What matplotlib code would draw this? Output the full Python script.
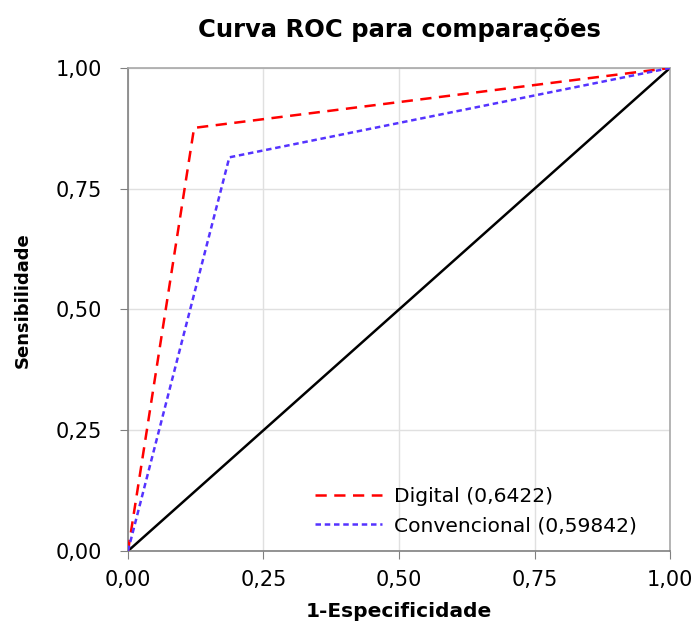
import matplotlib
matplotlib.use("Agg")
import matplotlib.pyplot as plt

plt.rcParams['font.family'] = ['DejaVu Sans']

digital_x = [0.0, 0.122, 1.0]
digital_y = [0.0, 0.876, 1.0]
conv_x = [0.0, 0.187, 1.0]
conv_y = [0.0, 0.815, 1.0]
ref_x = [0.0, 1.0]
ref_y = [0.0, 1.0]
ticks = [0.0, 0.25, 0.5, 0.75, 1.0]
tick_labels = ["0,00", "0,25", "0,50", "0,75", "1,00"]
labels = ["Digital (0,6422)", "Convencional (0,59842)"]

fig = plt.figure(figsize=(6.97, 6.26), dpi=100)
ax = fig.add_axes([0.1836, 0.1198, 0.7777, 0.7716])

ax.plot(ref_x, ref_y, color='black', lw=1.8, zorder=2)
l1, = ax.plot(digital_x, digital_y, color='#ff0000', lw=1.8, dashes=(4.5, 3), zorder=3)
l2, = ax.plot(conv_x, conv_y, color='#5533ff', lw=1.8, dashes=(2.2, 1.5), zorder=3)

ax.set_xlim(0, 1)
ax.set_ylim(0, 1)
ax.set_xticks(ticks)
ax.set_yticks(ticks)
ax.set_xticklabels(tick_labels, fontsize=15)
ax.set_yticklabels(tick_labels, fontsize=15)
ax.grid(True, color='#e0e0e0', lw=1)
ax.set_axisbelow(True)
for s in ax.spines.values():
    s.set_color('#a8a8a8')
    s.set_linewidth(1.2)
ax.spines['left'].set_color('#808080')
ax.spines['bottom'].set_color('#808080')
ax.tick_params(direction='out', length=6, color='#808080')
ax.tick_params(axis='x', pad=8)
ax.tick_params(axis='y', pad=13)

ax.set_title("Curva ROC para comparações", fontsize=17.5, fontweight='bold', pad=22)
ax.set_xlabel("1-Especificidade", fontsize=14.5, fontweight='bold', labelpad=8)
ax.set_ylabel("Sensibilidade", fontsize=13, fontweight='bold')
ax.yaxis.set_label_coords(-0.178, 0.52)

ax.legend([l1, l2], labels, loc='lower right', bbox_to_anchor=(0.972, -0.005),
          frameon=False, fontsize=14.6, handlelength=3.3, handletextpad=0.6,
          labelspacing=0.5)

fig.savefig("out.png", dpi=100)
